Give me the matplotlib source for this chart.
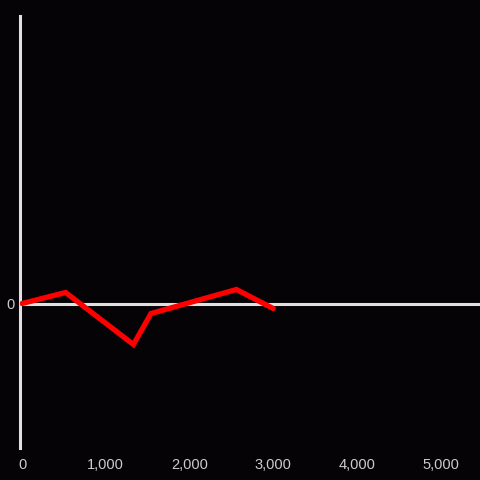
import matplotlib
matplotlib.use("Agg")
import matplotlib.pyplot as plt
from matplotlib.ticker import FuncFormatter

x_vals = [0, 520, 1330, 1540, 2560, 3000]
y_vals = [0, 11, -41, -10, 14, -5]
x_ticks = [0, 1000, 2000, 3000, 4000, 5000]

bg = "#050306"
fig = plt.figure(figsize=(4.8, 4.8), dpi=100, facecolor=bg)
ax = fig.add_axes([20/480, 32/480, 460/480, 432/480], facecolor=bg)

ax.plot(x_vals, y_vals, color="#ff0000", lw=3.8, solid_capstyle="round", solid_joinstyle="miter", zorder=3)
ax.axhline(0, color="#e0e0e0", lw=2.2, zorder=2)

ax.set_xlim(-25, 5470)
ax.set_ylim(-144.5, 287.5)

for s in ["top", "right", "bottom"]:
    ax.spines[s].set_visible(False)
ax.spines["left"].set_color("#e0e0e0")
ax.spines["left"].set_linewidth(2.2)

ax.set_xticks(x_ticks)
ax.xaxis.set_major_formatter(FuncFormatter(lambda v, p: f"{int(v):,}"))
ax.set_yticks([0])
ax.tick_params(axis="both", length=0, colors="#cccccc", labelsize=10.5)
ax.tick_params(axis="x", pad=7)
ax.tick_params(axis="y", pad=4)
for lbl in ax.get_xticklabels() + ax.get_yticklabels():
    lbl.set_family("Liberation Sans")
    lbl.set_color("#cccccc")

fig.savefig("out.png", dpi=100, facecolor=bg)
